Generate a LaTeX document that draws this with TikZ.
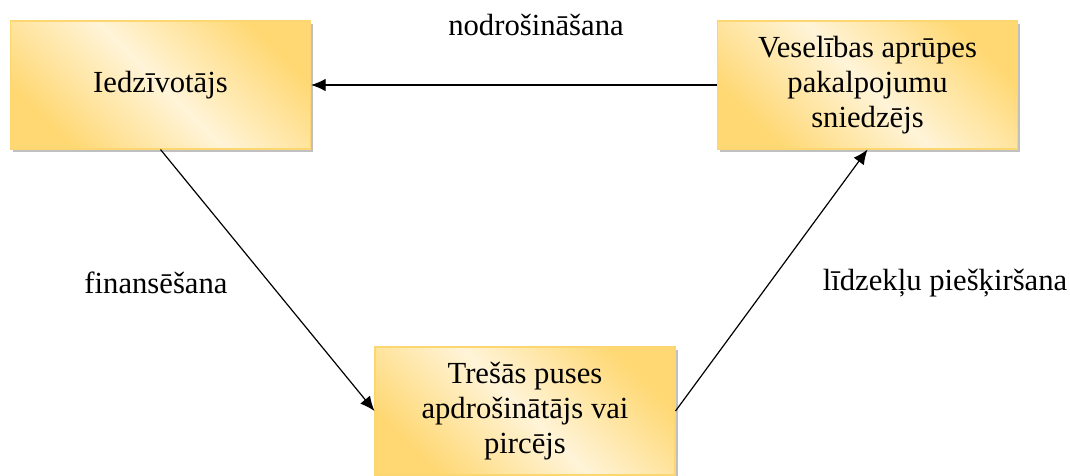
\documentclass[tikz,border=0pt]{standalone}
\usepackage{fontspec}
\setmainfont{Liberation Serif}
\usetikzlibrary{shadows,arrows.meta}
\definecolor{kaste}{RGB}{255,216,115}
\definecolor{gaisa}{RGB}{255,244,216}
\definecolor{mala}{RGB}{252,214,112}

\begin{document}
\begin{tikzpicture}[x=0.75pt,y=-0.75pt,
		bloks/.style={draw=mala, line width=0.8pt,
			left color=kaste, right color=kaste, middle color=gaisa, shading angle=-45,
			minimum width=225pt, minimum height=96pt, inner sep=0pt, align=center,
			font=\fontsize{23}{26.5}\selectfont,
			drop shadow={shadow xshift=2.2pt, shadow yshift=-2.2pt, fill=black!45, opacity=0.55}},
		uzraksts/.style={inner sep=0pt, font=\fontsize{23}{26.5}\selectfont},
		bulta/.style={-{Latex[length=11pt,width=9.5pt]}, line width=0.9pt}]
	\useasboundingbox (0,0) rectangle (1070,475);
	
	% Bloki
	\node[bloks] (iedz) at (160.5,85) {Iedzīvotājs};
	\node[bloks] (prov) at (867.5,85) {Veselības aprūpes\\pakalpojumu\\sniedzējs};
	\node[bloks] (tres) at (525,411) {Trešās puses\\apdrošinātājs vai\\pircējs};
	
	% Bultas
	\draw[bulta] (prov.west) -- (iedz.east);
	\draw[bulta] (iedz.south) -- (tres.west);
	\draw[bulta] (tres.east) -- (prov.south);
	
	% Uzraksti pie bultām
	\node[uzraksts] (nodr) at (536,25) {nodrošināšana};
	\node[uzraksts] (fin) at (156,283) {finansēšana};
	\node[uzraksts] (lidz) at (945,283) {līdzekļu piešķiršana};
\end{tikzpicture}
\end{document}
